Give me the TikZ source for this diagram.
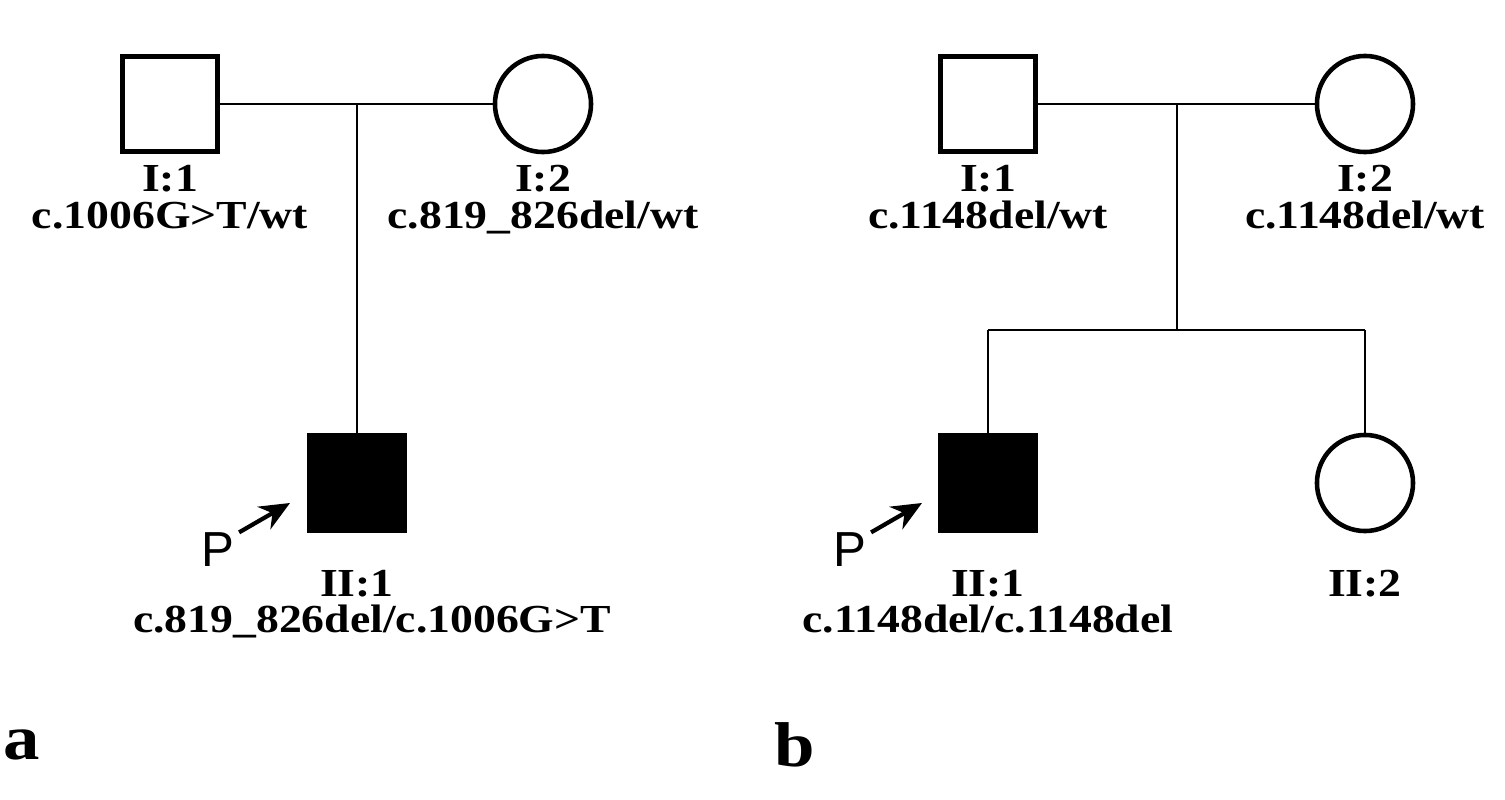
\documentclass[tikz,border=0pt]{standalone}
\usepackage{fontspec}
\setmainfont{Liberation Serif}[FakeStretch=1.15]
\newfontfamily\psans{Liberation Sans}
\usetikzlibrary{positioning,arrows.meta}
\tikzset{>={Stealth[width=2.6mm,length=3mm]}}

\begin{document}
\begin{tikzpicture}[x=0.01cm,y=-0.01cm]
  \tikzstyle{male} = [draw=black, line width=1.3pt, rectangle, minimum size=0.95cm, inner sep=0pt]
  \tikzstyle{female} = [draw=black, line width=1.3pt, circle, minimum size=0.96cm, inner sep=0pt]
  \tikzstyle{lbl} = [font=\fontsize{11.3}{13}\selectfont\bfseries, inner sep=0pt, anchor=base]
  \tikzstyle{plbl} = [font=\psans\fontsize{14}{16}\selectfont, inner sep=0pt]
  \tikzstyle{link} = [line width=0.7pt]
  \useasboundingbox (0,0) rectangle (1505,800);

  % pedigree a
  \node[male] (a11) at (170,104) {};
  \node[female] (a12) at (543,104) {};
  \node[male, fill=black] (a21) at (357,483) {};
  \coordinate (am) at (357,104);
  \node[lbl] at (170,192) {I:1};
  \node[lbl] at (170,228) {c.1006G>T/wt};
  \node[lbl] at (543,192) {I:2};
  \node[lbl] at (543,228) {c.819\_826del/wt};
  \node[lbl] at (357,596) {II:1};
  \node[lbl] at (372,632) {c.819\_826del/c.1006G>T};
  \node[plbl] (ap) at (218,550) {P};
  \coordinate (apa) at (290,503);
  \node[font=\fontsize{18}{20}\selectfont\bfseries] at (22,745) {a};
  \draw[link] (a11) -- (a12);
  \draw[link] (am) -- (a21);
  \draw[->, line width=1.2pt] (ap.north east) ++(4,0) -- (apa);

  % pedigree b
  \node[male] (b11) at (988,104) {};
  \node[female] (b12) at (1365,104) {};
  \node[male, fill=black] (b21) at (988,483) {};
  \node[female] (b22) at (1365,483) {};
  \coordinate (bm) at (1177,104);
  \coordinate (bs) at (1177,330);
  \coordinate (bs1) at (988,330);
  \coordinate (bs2) at (1365,330);
  \node[lbl] at (988,192) {I:1};
  \node[lbl] at (988,228) {c.1148del/wt};
  \node[lbl] at (1365,192) {I:2};
  \node[lbl] at (1365,228) {c.1148del/wt};
  \node[lbl] at (988,596) {II:1};
  \node[lbl] at (988,632) {c.1148del/c.1148del};
  \node[lbl] at (1365,596) {II:2};
  \node[plbl] (bp) at (850,550) {P};
  \coordinate (bpa) at (922,503);
  \node[font=\fontsize{18}{20}\selectfont\bfseries] at (795,745) {b};
  \draw[link] (b11) -- (b12);
  \draw[link] (bm) -- (bs);
  \draw[link] (bs1) -- (bs2);
  \draw[link] (bs1) -- (b21);
  \draw[link] (bs2) -- (b22);
  \draw[->, line width=1.2pt] (bp.north east) ++(4,0) -- (bpa);
\end{tikzpicture}
\end{document}
